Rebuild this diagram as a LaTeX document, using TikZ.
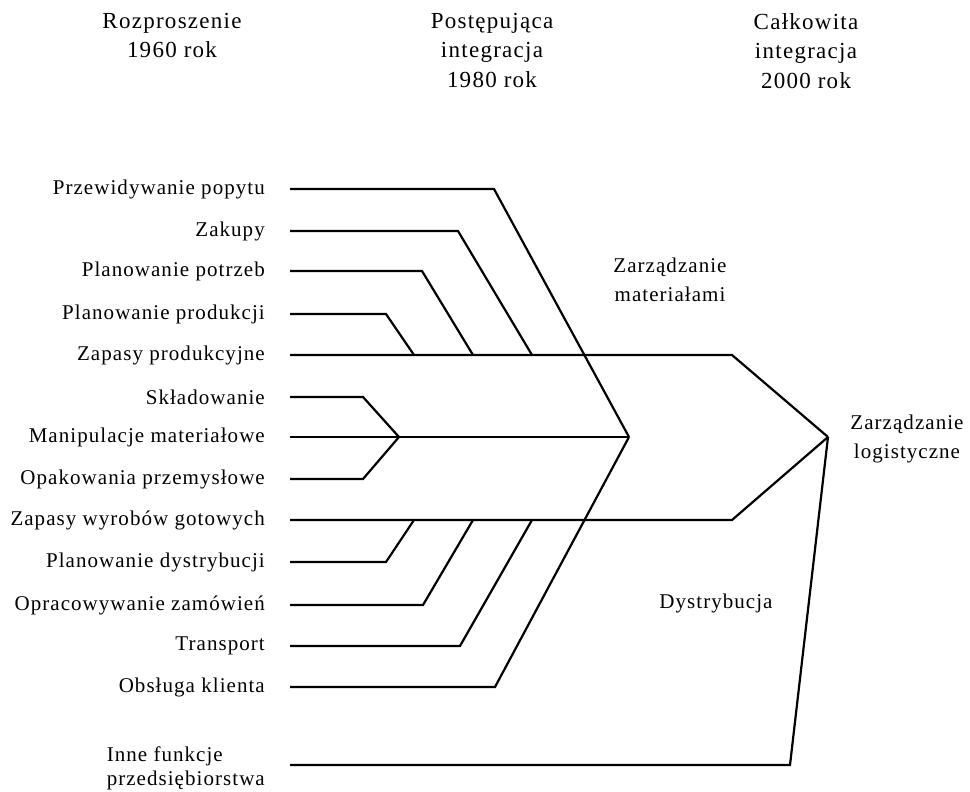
\documentclass[tikz,border=0pt]{standalone}
\usepackage{fontspec}
\setmainfont{Liberation Serif}[LetterSpace=5]
\newfontfamily\headfont{Liberation Serif}[LetterSpace=5.5]
\begin{document}
\begin{tikzpicture}[x=1pt,y=-1pt,
  conn/.style={line width=2.2pt, line join=miter, line cap=butt},
  lbl/.style={anchor=east, inner sep=0pt, font=\fontsize{21}{24}\selectfont},
  hdr/.style={anchor=north, inner sep=0pt, align=center, font=\headfont\fontsize{23}{29.5}\selectfont},
  grp/.style={inner sep=0pt, align=center, font=\fontsize{21}{29}\selectfont}]
\useasboundingbox (0,0) rectangle (970,792);

% stage headings
\node[hdr] (h1) at (172,13) {Rozproszenie\\1960 rok};
\node[hdr] (h2) at (492,13) {Postępująca\\integracja\\1980 rok};
\node[hdr] (h3) at (806,13) {Całkowita\\integracja\\2000 rok};

% group names
\node[grp] (gm) at (670,280) {Zarządzanie\\materiałami};
\node[grp] (gd) at (716,603) {Dystrybucja};
\node[grp] (gl) at (907,439) {Zarządzanie\\logistyczne};

% single functions
\node[lbl] (f1)  at (265,189) {Przewidywanie popytu};
\node[lbl] (f2)  at (265,231) {Zakupy};
\node[lbl] (f3)  at (265,271) {Planowanie potrzeb};
\node[lbl] (f4)  at (265,314) {Planowanie produkcji};
\node[lbl] (f5)  at (265,355) {Zapasy produkcyjne};
\node[lbl] (f6)  at (265,397) {Składowanie};
\node[lbl] (f7)  at (265,437) {Manipulacje materiałowe};
\node[lbl] (f8)  at (265,479) {Opakowania przemysłowe};
\node[lbl] (f9)  at (265,520) {Zapasy wyrobów gotowych};
\node[lbl] (f10) at (265,562) {Planowanie dystrybucji};
\node[lbl] (f11) at (265,605) {Opracowywanie zamówień};
\node[lbl] (f12) at (265,646) {Transport};
\node[lbl] (f13) at (265,687) {Obsługa klienta};
\node[lbl, align=left] (f14) at (265,768) {Inne funkcje\\przedsiębiorstwa};

% merge points
\coordinate (A)  at (629,437);   % material and distribution join
\coordinate (L)  at (828,437);   % logistics
\coordinate (Bh) at (399,437);   % warehousing trio
\coordinate (m2) at (532,355);
\coordinate (m3) at (473,355);
\coordinate (m4) at (414,355);
\coordinate (d10) at (414,520);
\coordinate (d11) at (473,520);
\coordinate (d12) at (532,520);
\coordinate (mt) at (732,355);
\coordinate (dt) at (732,520);
\coordinate (it) at (790,765);

% connectors
\draw[conn] ([xshift=25pt]f1.east) -- (494,189) -- (A);
\draw[conn] ([xshift=25pt]f2.east) -- (458,231) -- (m2);
\draw[conn] ([xshift=25pt]f3.east) -- (422,271) -- (m3);
\draw[conn] ([xshift=25pt]f4.east) -- (386,314) -- (m4);
\draw[conn] ([xshift=25pt]f5.east) -- (mt) -- (L);
\draw[conn] ([xshift=25pt]f6.east) -- (363,397) -- (Bh);
\draw[conn] ([xshift=25pt]f7.east) -- (A);
\draw[conn] ([xshift=25pt]f8.east) -- (363,479) -- (Bh);
\draw[conn] ([xshift=25pt]f9.east) -- (dt) -- (L);
\draw[conn] ([xshift=25pt]f10.east) -- (386,562) -- (d10);
\draw[conn] ([xshift=25pt]f11.east) -- (423,605) -- (d11);
\draw[conn] ([xshift=25pt]f12.east) -- (460,646) -- (d12);
\draw[conn] ([xshift=25pt]f13.east) -- (495,687) -- (A);
\draw[conn] ([xshift=25pt]f14.east |- it) -- (it) -- (L);
\end{tikzpicture}
\end{document}
